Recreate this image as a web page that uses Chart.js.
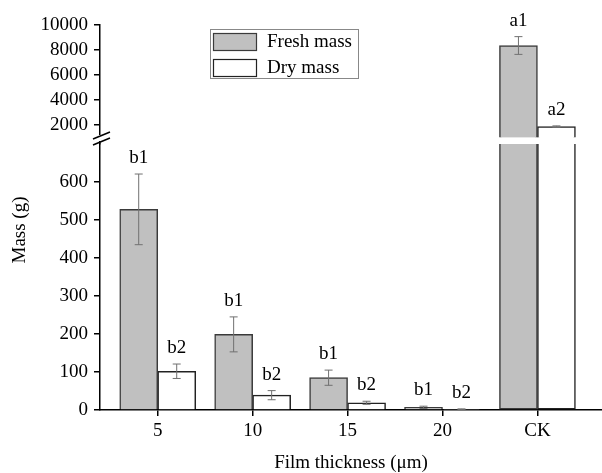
<!DOCTYPE html>
<html>
<head>
<meta charset="utf-8">
<script src="https://cdn.jsdelivr.net/npm/chart.js@4.4.1/dist/chart.umd.min.js"></script>
<style>
  html, body { margin: 0; padding: 0; background: #fff; }
  #wrap { width: 602px; height: 473px; }
</style>
</head>
<body>
<div id="wrap"><canvas id="chart" width="602" height="473"></canvas></div>
<script>
// data
const categories = ['5', '10', '15', '20', 'CK'];
const freshMass = [528, 199, 85, 7, 8360];
const freshErr = [93, 46, 20, 3, 710];
const dryMass = [102, 39, 19, 2, 1870];
const dryErr = [19, 12, 4, 1, 60];
const freshLetters = ['b1', 'b1', 'b1', 'b1', 'a1'];
const dryLetters = ['b2', 'b2', 'b2', 'b2', 'a2'];
const yLowTicks = [0, 100, 200, 300, 400, 500, 600];
const yHighTicks = [2000, 4000, 6000, 8000, 10000];

// broken axis: lower segment 0..700, upper segment starts at 1000
const LOW_MAX = 700;
const BREAK_START = 1000;
const HIGH_MIN = 480;
const HIGH_MAX = 10000;
const X_MIN = 0.392, X_MAX = 5.68;

const FONT = { family: "'Liberation Serif', 'Times New Roman', serif", size: 19 };
const FRESH_BG = '#c0c0c0', FRESH_BORDER = '#3a3a3a';
const DRY_BG = '#ffffff', DRY_BORDER = '#222222';

const xPos = categories.map((_, i) => i + 1);
const lowPart = vals => vals.map((v, i) => ({ x: xPos[i], y: Math.min(v, LOW_MAX) }));
const highPart = vals => vals
  .map((v, i) => ({ x: xPos[i], y: [BREAK_START, v] }))
  .filter((p, i) => vals[i] > LOW_MAX);
const skipLow = ctx => (ctx.raw && ctx.raw.y >= LOW_MAX) ? 'top' : 'bottom';

const barCommon = { barThickness: 38, borderWidth: 1.5, grouped: true };

const errorBars = {
  id: 'errorBars',
  afterDatasetsDraw(chart) {
    const ctx = chart.ctx;
    const series = [
      { vals: freshMass, errs: freshErr, letters: freshLetters, low: 0 },
      { vals: dryMass, errs: dryErr, letters: dryLetters, low: 1 }
    ];
    ctx.save();
    series.forEach(s => {
      const meta = chart.getDatasetMeta(s.low);
      s.vals.forEach((v, i) => {
        const scale = chart.scales[v > LOW_MAX ? 'yHigh' : 'yLow'];
        const x = meta.data[i].x;
        const yTop = scale.getPixelForValue(v + s.errs[i]);
        const yBot = scale.getPixelForValue(Math.max(v - s.errs[i], 0));
        ctx.strokeStyle = '#707070';
        ctx.lineWidth = 1;
        ctx.beginPath();
        ctx.moveTo(x, yTop); ctx.lineTo(x, yBot);
        ctx.moveTo(x - 4, yTop); ctx.lineTo(x + 4, yTop);
        ctx.moveTo(x - 4, yBot); ctx.lineTo(x + 4, yBot);
        ctx.stroke();
        ctx.fillStyle = '#000';
        ctx.font = `${FONT.size}px ${FONT.family}`;
        ctx.textAlign = 'center';
        ctx.textBaseline = 'middle';
        ctx.fillText(s.letters[i], x, yTop - 16);
      });
    });
    ctx.restore();
  }
};

// "//" marks on the y axis plus the y title (centred lower than the lower segment's middle)
const axisBreak = {
  id: 'axisBreak',
  afterDraw(chart) {
    const ctx = chart.ctx;
    const x = chart.chartArea.left;
    const y0 = chart.scales.yLow.top;
    ctx.save();
    ctx.fillStyle = '#fff';
    ctx.fillRect(x - 2, y0 - 9, 4, 6);
    ctx.strokeStyle = '#000';
    ctx.lineWidth = 1.5;
    ctx.beginPath();
    ctx.moveTo(x - 7, y0 - 5); ctx.lineTo(x + 10, y0 - 12);
    ctx.moveTo(x - 7, y0 + 1); ctx.lineTo(x + 10, y0 - 6);
    ctx.stroke();

    ctx.translate(20, 230);
    ctx.rotate(-Math.PI / 2);
    ctx.fillStyle = '#000';
    ctx.font = `${FONT.size}px ${FONT.family}`;
    ctx.textAlign = 'center';
    ctx.textBaseline = 'middle';
    ctx.fillText('Mass (g)', 0, 0);
    ctx.restore();
  }
};

const boxLegend = {
  id: 'boxLegend',
  afterDraw(chart) {
    const ctx = chart.ctx;
    const items = [chart.data.datasets[0], chart.data.datasets[1]];
    ctx.save();
    ctx.strokeStyle = '#888';
    ctx.lineWidth = 1;
    ctx.strokeRect(210.5, 29.5, 148, 49);
    ctx.font = `${FONT.size}px ${FONT.family}`;
    ctx.textAlign = 'left';
    ctx.textBaseline = 'middle';
    items.forEach((d, i) => {
      const y = 33.5 + i * 26;
      ctx.fillStyle = d.backgroundColor;
      ctx.fillRect(213.5, y, 43, 17);
      ctx.strokeStyle = d.borderColor;
      ctx.lineWidth = 1.2;
      ctx.strokeRect(213.5, y, 43, 17);
      ctx.fillStyle = '#000';
      ctx.fillText(d.label, 267, y + 8.5);
    });
    ctx.restore();
  }
};

const yScale = (extra) => Object.assign({
  type: 'linear',
  position: 'left',
  stack: 'y',
  stacked: false,
  afterFit: s => { s.width = 100; },
  ticks: { font: FONT, color: '#000', padding: 6, autoSkip: false, callback: v => String(v) },
  grid: { drawOnChartArea: false, drawTicks: true, tickLength: 6, color: '#000', lineWidth: 1.5 },
  border: { color: '#000', width: 1.5 }
}, extra);

new Chart(document.getElementById('chart'), {
  type: 'bar',
  data: {
    datasets: [
      Object.assign({ label: 'Fresh mass', data: lowPart(freshMass), yAxisID: 'yLow', stack: 'fresh',
        backgroundColor: FRESH_BG, borderColor: FRESH_BORDER, borderSkipped: skipLow }, barCommon),
      Object.assign({ label: 'Dry mass', data: lowPart(dryMass), yAxisID: 'yLow', stack: 'dry',
        backgroundColor: DRY_BG, borderColor: DRY_BORDER, borderSkipped: skipLow }, barCommon),
      Object.assign({ label: 'Fresh mass', data: highPart(freshMass), yAxisID: 'yHigh', stack: 'fresh',
        backgroundColor: FRESH_BG, borderColor: FRESH_BORDER, borderSkipped: 'bottom' }, barCommon),
      Object.assign({ label: 'Dry mass', data: highPart(dryMass), yAxisID: 'yHigh', stack: 'dry',
        backgroundColor: DRY_BG, borderColor: DRY_BORDER, borderSkipped: 'bottom' }, barCommon)
    ]
  },
  options: {
    responsive: false,
    animation: false,
    devicePixelRatio: 1,
    layout: { padding: { top: 25, right: 0, bottom: 0, left: 0 } },
    plugins: { legend: { display: false }, tooltip: { enabled: false } },
    scales: {
      x: {
        type: 'linear',
        offset: false,
        min: X_MIN,
        max: X_MAX,
        afterBuildTicks: s => { s.ticks = xPos.map(v => ({ value: v })); },
        afterFit: s => { s.height = 63; },
        ticks: { font: FONT, color: '#000', padding: 4, autoSkip: false, maxRotation: 0,
          callback: (v, i) => categories[i] },
        grid: { offset: false, drawOnChartArea: false, drawTicks: true, tickLength: 6, color: '#000', lineWidth: 1.5 },
        border: { color: '#000', width: 1.5 },
        title: { display: true, text: 'Film thickness (\u03bcm)', font: Object.assign({ lineHeight: 1 }, FONT),
          color: '#000', padding: { top: 0, bottom: 0 } }
      },
      yHigh: yScale({
        min: HIGH_MIN, max: HIGH_MAX, weight: 2, stackWeight: 119,
        afterBuildTicks: s => { s.ticks = yHighTicks.map(v => ({ value: v })); }
      }),
      yLow: yScale({
        min: 0, max: LOW_MAX, weight: 1, stackWeight: 266,
        afterBuildTicks: s => { s.ticks = yLowTicks.map(v => ({ value: v })); }
      })
    }
  },
  plugins: [errorBars, axisBreak, boxLegend]
});
</script>
</body>
</html>
